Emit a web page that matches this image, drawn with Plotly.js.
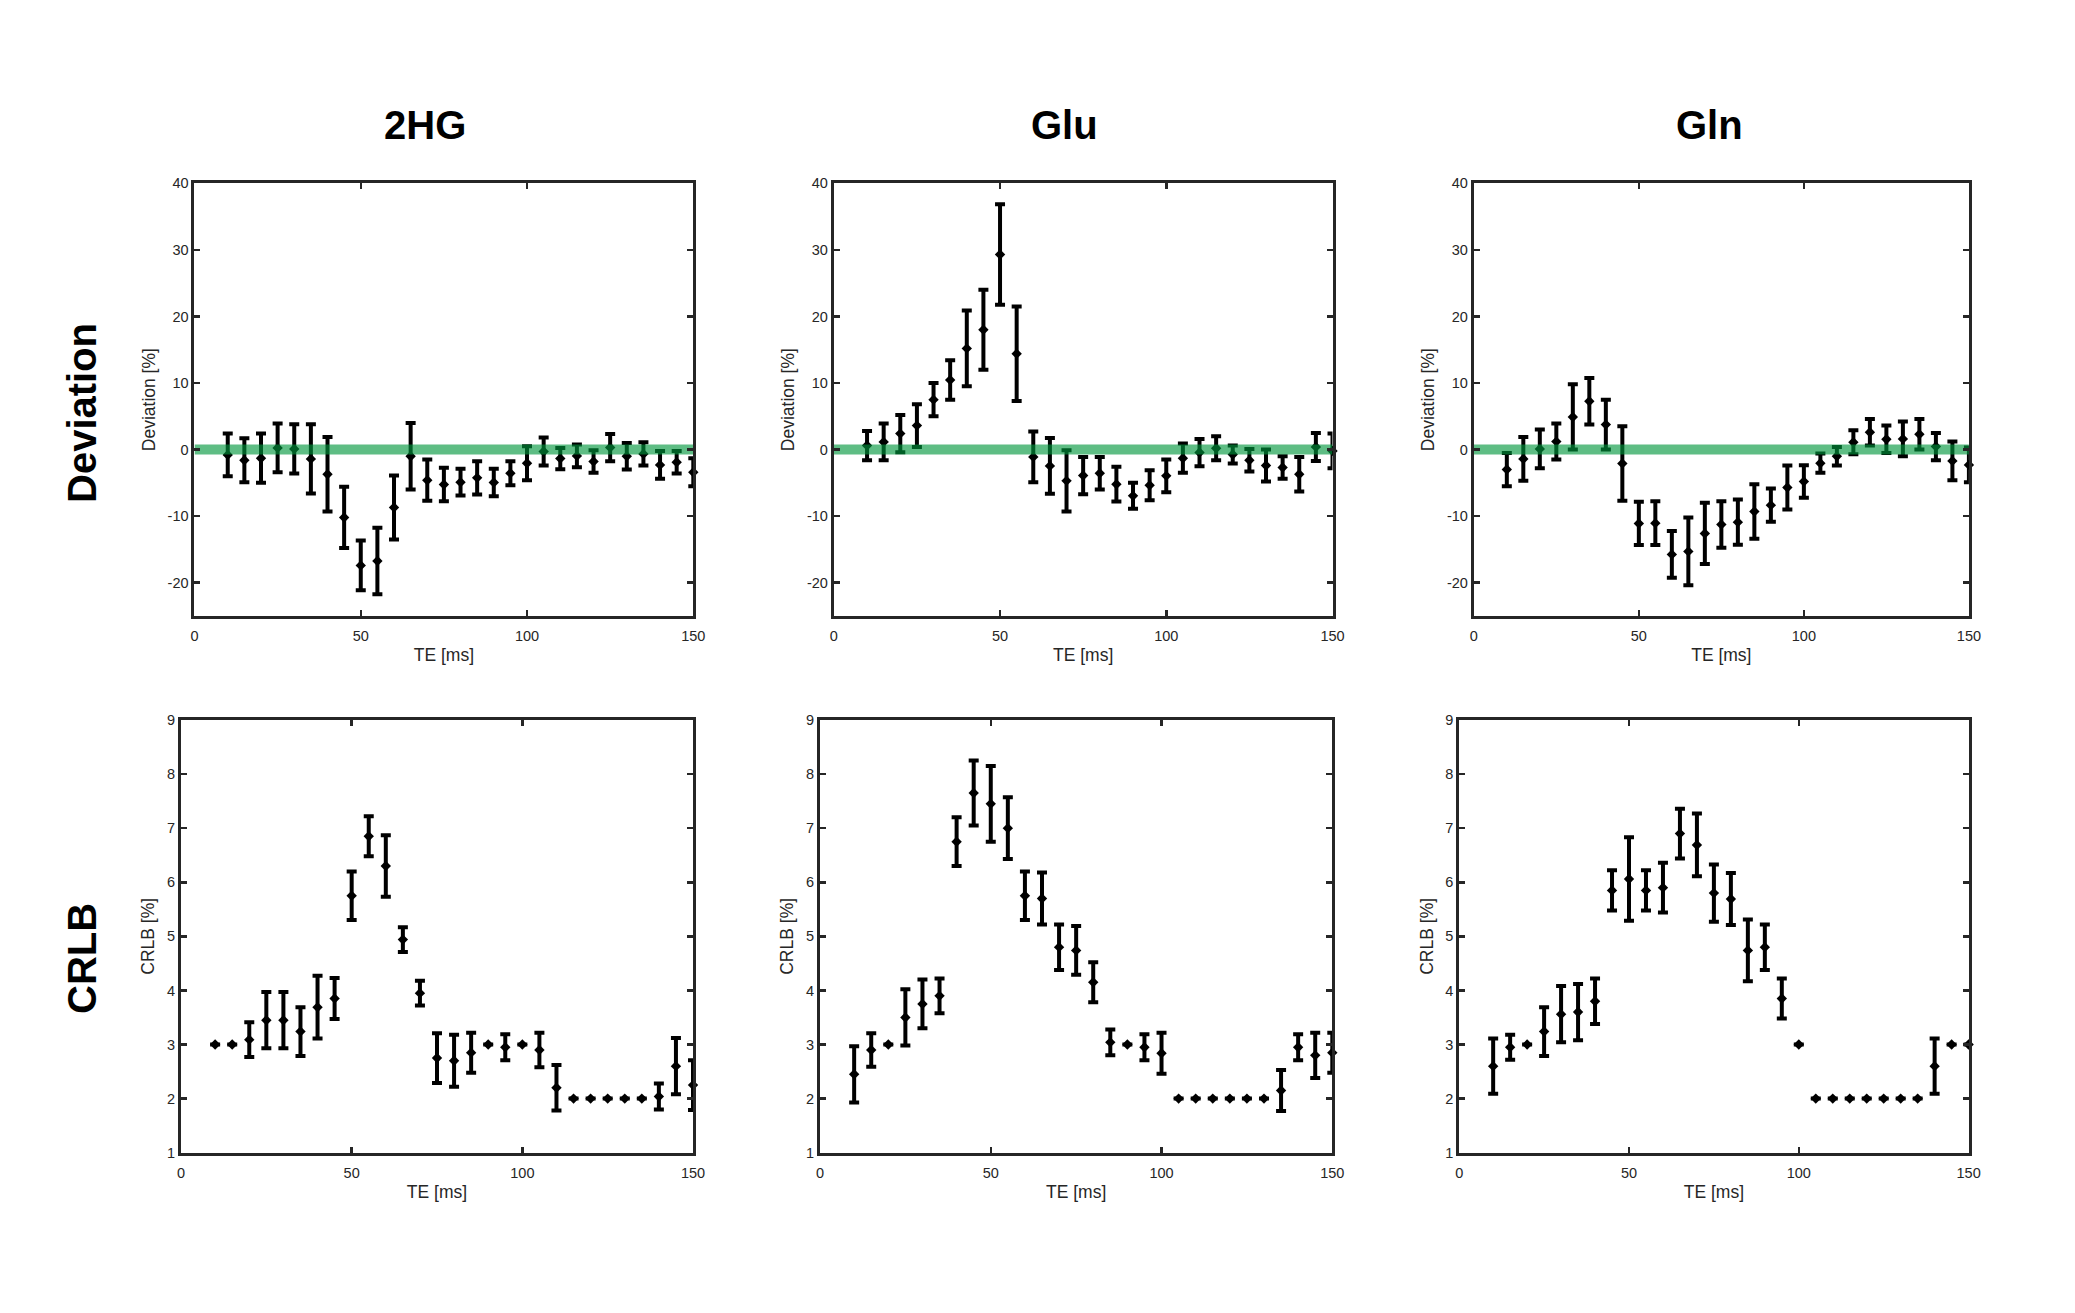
<!DOCTYPE html>
<html>
<head>
<meta charset="utf-8">
<script src="https://cdn.plot.ly/plotly-3.0.1.min.js"></script>
<style>html,body{margin:0;padding:0;background:#fff;}#chart{width:2075px;height:1313px;}</style>
</head>
<body>
<div id="chart"></div>
<script>
// ---- data ----
const te = [10,15,20,25,30,35,40,45,50,55,60,65,70,75,80,85,90,95,100,105,110,115,120,125,130,135,140,145,150];

const metabolites = ["2HG", "Glu", "Gln"];
const rowLabels = ["Deviation", "CRLB"];

const dev2HG    = [-0.8,-1.6,-1.3,0.25,0.1,-1.4,-3.7,-10.2,-17.4,-16.75,-8.7,-1,-4.6,-5.25,-4.9,-4.25,-4.95,-3.55,-2.05,-0.3,-1.35,-0.95,-1.8,0.3,-1,-0.65,-2.3,-1.9,-3.4];
const dev2HGErr = [3.2,3.3,3.7,3.65,3.7,5.2,5.6,4.6,3.75,5,4.8,5,3.1,2.5,2,2.5,2.05,1.8,2.55,2.1,1.6,1.7,1.7,2.05,2,1.75,2.1,1.7,2.1];

const devGlu    = [0.6,1.15,2.4,3.6,7.5,10.45,15.2,18,29.3,14.4,-1.1,-2.45,-4.7,-3.9,-3.55,-5.2,-6.95,-5.35,-3.95,-1.3,-0.45,0.2,-0.75,-1.6,-2.4,-2.7,-3.7,0.4,-0.2];
const devGluErr = [2.2,2.75,2.8,3.2,2.5,2.95,5.7,6,7.55,7.1,3.8,4.2,4.6,2.8,2.45,2.6,1.95,2.25,2.45,2.2,2.05,1.8,1.35,1.7,2.4,1.7,2.6,2.1,2.6];

const devGln    = [-3,-1.4,0.1,1.2,4.9,7.25,3.75,-2.1,-11.1,-11.05,-15.75,-15.3,-12.6,-11.25,-10.9,-9.3,-8.35,-5.7,-4.8,-2.05,-1,1.1,2.6,1.55,1.6,2.3,0.45,-1.7,-2.3];
const devGlnErr = [2.5,3.3,2.9,2.7,4.9,3.5,3.75,5.6,3.25,3.3,3.5,5.1,4.6,3.5,3.4,4.1,2.5,3.3,2.45,1.45,1.4,1.8,2,2.05,2.6,2.3,2.05,2.9,2.6];

const crlb2HG    = [3,3,3.09,3.45,3.45,3.24,3.69,3.85,5.75,6.85,6.3,4.94,3.95,2.75,2.7,2.85,3,2.95,3,2.9,2.2,2,2,2,2,2,2.04,2.6,2.25];
const crlb2HGErr = [0,0,0.32,0.52,0.52,0.45,0.58,0.38,0.45,0.37,0.57,0.23,0.23,0.46,0.48,0.37,0,0.24,0,0.32,0.42,0,0,0,0,0,0.24,0.52,0.46];

const crlbGlu    = [2.45,2.9,3,3.5,3.75,3.9,6.75,7.65,7.45,7.0,5.75,5.7,4.8,4.74,4.15,3.04,3,2.95,2.84,2,2,2,2,2,2,2.15,2.95,2.8,2.85];
const crlbGluErr = [0.52,0.31,0,0.52,0.45,0.32,0.45,0.6,0.7,0.57,0.45,0.48,0.42,0.45,0.37,0.24,0,0.24,0.38,0,0,0,0,0,0,0.38,0.24,0.42,0.37];

const crlbGln    = [2.6,2.95,3,3.24,3.56,3.6,3.8,5.85,6.06,5.85,5.9,6.9,6.69,5.8,5.69,4.74,4.8,3.85,3,2,2,2,2,2,2,2,2.6,3,3];
const crlbGlnErr = [0.51,0.23,0,0.45,0.52,0.52,0.42,0.37,0.77,0.37,0.46,0.46,0.58,0.53,0.48,0.57,0.42,0.37,0,0,0,0,0,0,0,0,0.51,0,0];

const zeroLineX = [0, 150];
const zeroLineY = [0, 0];

const xTicks = [0, 50, 100, 150];
const devTicks = [-20, -10, 0, 10, 20, 30, 40];
const crlbTicks = [1, 2, 3, 4, 5, 6, 7, 8, 9];

// ---- build ----
const FONT = "Liberation Sans, Arial, sans-serif";
const TXT = "#262626";

const devSeries = [[dev2HG, dev2HGErr], [devGlu, devGluErr], [devGln, devGlnErr]];
const crlbSeries = [[crlb2HG, crlb2HGErr], [crlbGlu, crlbGluErr], [crlbGln, crlbGlnErr]];

const xDomTop = [[0.09373, 0.33412], [0.40183, 0.64217], [0.71027, 0.94887]];
const xDomBot = [[0.08723, 0.33398], [0.39518, 0.64207], [0.70323, 0.94872]];
const yDomTop = [0.53085, 0.86040];
const yDomBot = [0.12209, 0.45164];

const traces = [];
const layout = {
  width: 2075, height: 1313,
  margin: {l: 0, r: 0, t: 0, b: 0},
  paper_bgcolor: "#fff", plot_bgcolor: "#fff",
  showlegend: false,
  font: {family: FONT, color: TXT},
  annotations: []
};

function errTrace(y, err, id) {
  return {
    type: "scatter", mode: "markers",
    x: te, y: y,
    xaxis: "x" + id, yaxis: "y" + id,
    cliponaxis: false,
    marker: {symbol: "diamond", size: 8, color: "#000"},
    error_y: {type: "data", array: err, visible: true, color: "#000", thickness: 4, width: 5},
    hoverinfo: "x+y"
  };
}

function xAxis(dom, id) {
  return {
    domain: dom, anchor: "y" + id, range: [0, 150], tickvals: xTicks,
    ticktext: xTicks.map(String),
    ticks: "inside", ticklen: 6, tickwidth: 2.5, tickcolor: TXT,
    showline: true, linewidth: 3, linecolor: TXT, mirror: "ticks",
    showgrid: false, zeroline: false, automargin: false,
    ticklabelstandoff: 5,
    tickfont: {family: FONT, size: 14.5, color: TXT},
    title: {text: "TE [ms]", font: {family: FONT, size: 17.5, color: TXT}, standoff: 6}
  };
}
function yAxis(dom, id, range, ticks, title) {
  return {
    domain: dom, anchor: "x" + id, range: range, tickvals: ticks,
    ticktext: ticks.map(String),
    ticks: "inside", ticklen: 6, tickwidth: 2.5, tickcolor: TXT,
    showline: true, linewidth: 3, linecolor: TXT, mirror: "ticks",
    showgrid: false, zeroline: false, automargin: false,
    tickfont: {family: FONT, size: 14.5, color: TXT},
    title: {text: title, font: {family: FONT, size: 17.5, color: TXT}, standoff: 8}
  };
}

for (let i = 0; i < 3; i++) {
  const id = i === 0 ? "" : String(i + 1);
  traces.push(errTrace(devSeries[i][0], devSeries[i][1], id));
  traces.push({
    type: "scatter", mode: "lines", x: zeroLineX, y: zeroLineY,
    xaxis: "x" + id, yaxis: "y" + id,
    line: {color: "rgba(0,150,60,0.63)", width: 10}, hoverinfo: "skip"
  });
  layout["xaxis" + id] = xAxis(xDomTop[i], id);
  layout["yaxis" + id] = yAxis(yDomTop, id, [-25, 40], devTicks, "Deviation [%]");
}
for (let i = 0; i < 3; i++) {
  const id = String(i + 4);
  traces.push(errTrace(crlbSeries[i][0], crlbSeries[i][1], id));
  layout["xaxis" + id] = xAxis(xDomBot[i], id);
  layout["yaxis" + id] = yAxis(yDomBot, id, [1, 9], crlbTicks, "CRLB [%]");
}

const colTitleX = [425, 1064, 1709];
metabolites.forEach((m, i) => {
  layout.annotations.push({
    text: m, xref: "paper", yref: "paper",
    x: colTitleX[i] / 2075, y: 1 - 125 / 1313,
    xanchor: "center", yanchor: "middle", showarrow: false,
    font: {family: FONT, size: 40, color: "#000", weight: "bold"}
  });
});
const rowLabelY = [413, 959];
rowLabels.forEach((r, i) => {
  layout.annotations.push({
    text: r, xref: "paper", yref: "paper",
    x: 82 / 2075, y: 1 - rowLabelY[i] / 1313,
    xanchor: "center", yanchor: "middle", showarrow: false, textangle: -90,
    font: {family: FONT, size: 40, color: "#000", weight: "bold"}
  });
});

Plotly.newPlot("chart", traces, layout, {displayModeBar: false, staticPlot: true});
</script>
</body>
</html>
